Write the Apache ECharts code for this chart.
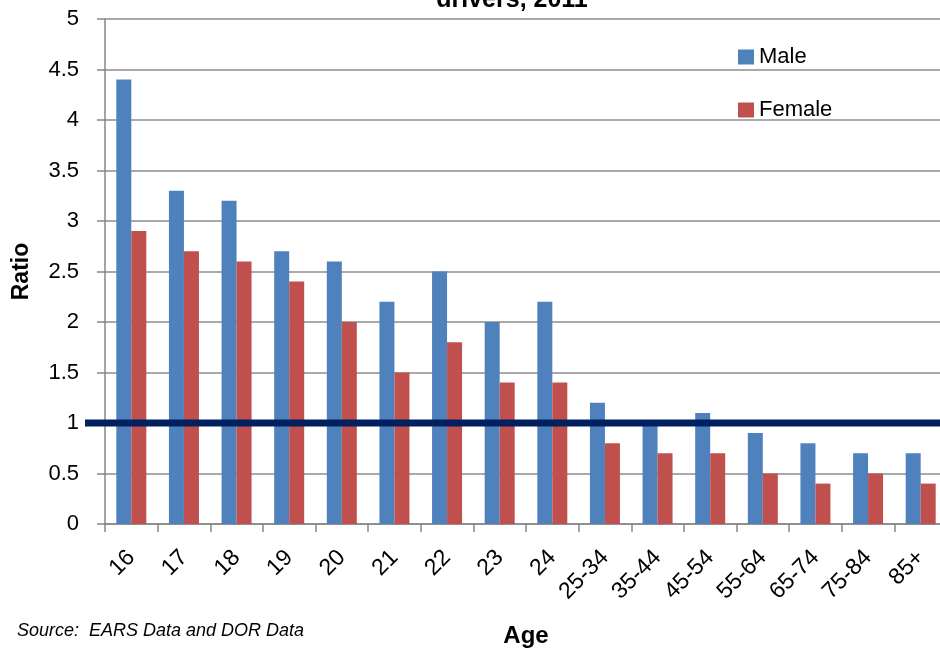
<!DOCTYPE html>
<html>
<head>
<meta charset="utf-8">
<script src="https://cdn.jsdelivr.net/npm/echarts@6/dist/echarts.min.js"></script>
<style>
  html, body { margin: 0; padding: 0; background: #fff; }
  #chart { width: 940px; height: 649px; }
</style>
</head>
<body>
<div id="chart"></div>
<script>
// Age groups and crash-involvement ratios by driver sex
const ageGroups = ['16', '17', '18', '19', '20', '21', '22', '23', '24',
  '25-34', '35-44', '45-54', '55-64', '65-74', '75-84', '85+'];
const maleRatio = [4.4, 3.3, 3.2, 2.7, 2.6, 2.2, 2.5, 2.0, 2.2, 1.2, 1.0, 1.1, 0.9, 0.8, 0.7, 0.7];
const femaleRatio = [2.9, 2.7, 2.6, 2.4, 2.0, 1.5, 1.8, 1.4, 1.4, 0.8, 0.7, 0.7, 0.5, 0.4, 0.5, 0.4];
const parityRatio = 1;
const ratioTicks = { min: 0, max: 5, interval: 0.5 };

const FONT = '"Liberation Sans", Arial, sans-serif';
const chart = echarts.init(document.getElementById('chart'), null, { renderer: 'canvas' });

const option = {
  animation: false,
  backgroundColor: '#ffffff',
  textStyle: { fontFamily: FONT },
  grid: {
    left: 105, top: 19, width: 842, height: 505,
    containLabel: false,
    outerBoundsMode: 'none'
  },
  legend: {
    orient: 'vertical',
    left: 733,
    top: 41,
    itemWidth: 16,
    itemHeight: 15,
    itemGap: 31,
    icon: 'rect',
    textStyle: { fontFamily: FONT, fontSize: 22, color: '#000' },
    data: ['Male', 'Female']
  },
  xAxis: {
    type: 'category',
    data: ageGroups,
    axisLine: { lineStyle: { color: '#868686', width: 1.5 } },
    axisTick: { show: true, length: 8, lineStyle: { color: '#868686', width: 1.5 } },
    axisLabel: { rotate: 45, margin: 30, fontFamily: FONT, fontSize: 23, color: '#000', interval: 0 },
    name: 'Age',
    nameLocation: 'middle',
    nameGap: 100,
    nameTextStyle: { fontFamily: FONT, fontSize: 24, fontWeight: 'bold', color: '#000' }
  },
  yAxis: {
    type: 'value',
    min: ratioTicks.min,
    max: ratioTicks.max,
    interval: ratioTicks.interval,
    axisLine: { show: true, lineStyle: { color: '#868686', width: 1.5 } },
    axisTick: { show: true, length: 8, lineStyle: { color: '#868686', width: 1.5 } },
    splitLine: { show: true, lineStyle: { color: '#8c8c8c', width: 1.5 } },
    axisLabel: { margin: 26, fontFamily: FONT, fontSize: 22, color: '#000' },
    name: 'Ratio',
    nameLocation: 'middle',
    nameGap: 72,
    nameRotate: 90,
    nameTextStyle: { fontFamily: FONT, fontSize: 23, fontWeight: 'bold', color: '#000' }
  },
  series: [
    {
      name: 'Male',
      type: 'bar',
      data: maleRatio,
      barWidth: 15,
      barGap: '0%',
      itemStyle: { color: '#4F81BD' }
    },
    {
      name: 'Female',
      type: 'bar',
      data: femaleRatio,
      barWidth: 15,
      barGap: '0%',
      itemStyle: { color: '#C0504D' }
    }
  ],
  graphic: [
    {
      id: 'titleTail',
      type: 'text',
      x: 512,
      y: 13,
      style: {
        text: 'drivers, 2011',
        align: 'center',
        verticalAlign: 'bottom',
        fontFamily: FONT, fontSize: 25, fontWeight: 'bold', fill: '#000'
      },
      z: 10
    },
    {
      id: 'source',
      type: 'text',
      x: 17,
      y: 622,
      style: {
        text: 'Source:  EARS Data and DOR Data',
        fontFamily: FONT, fontSize: 18, fontStyle: 'italic', fill: '#000'
      }
    }
  ]
};

chart.setOption(option);

// Parity reference line at ratio = 1, positioned through the value axis
const refY = chart.convertToPixel({ yAxisIndex: 0 }, parityRatio);
chart.setOption({
  graphic: [
    {
      id: 'parityLine',
      type: 'line',
      shape: { x1: 85, y1: refY, x2: 940, y2: refY },
      style: { stroke: '#002060', lineWidth: 7 },
      z: 100
    }
  ]
});
</script>
</body>
</html>
